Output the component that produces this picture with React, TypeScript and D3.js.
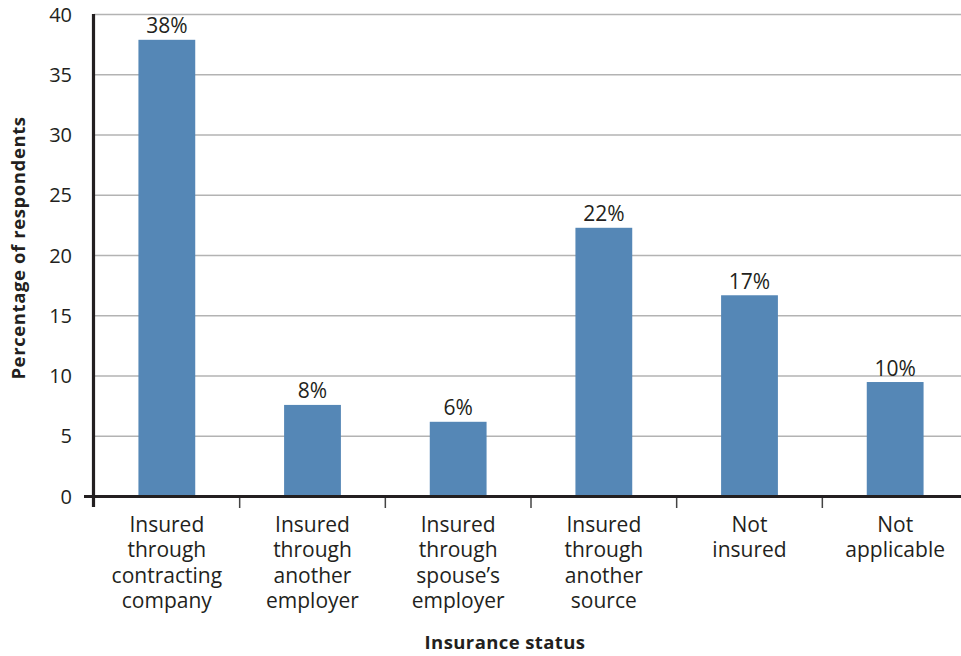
import React from "react";
import * as d3 from "d3";

const categories: string[][] = [
  ["Insured", "through", "contracting", "company"],
  ["Insured", "through", "another", "employer"],
  ["Insured", "through", "spouse\u2019s", "employer"],
  ["Insured", "through", "another", "source"],
  ["Not", "insured"],
  ["Not", "applicable"],
];
const values: number[] = [37.9, 7.6, 6.2, 22.3, 16.7, 9.5];
const valueLabels: string[] = ["38%", "8%", "6%", "22%", "17%", "10%"];
const yTicks: number[] = [0, 5, 10, 15, 20, 25, 30, 35, 40];

const W = 961;
const H = 656;
const FONT = "'Open Sans', 'Noto Sans', sans-serif";
const TEXT = "#231f20";

export default function App() {
  const x = d3
    .scaleBand<number>()
    .domain(d3.range(categories.length))
    .range([94, 968])
    .paddingInner(0.61)
    .paddingOuter(0.305);
  const y = d3.scaleLinear().domain([0, 40]).range([496.5, 14.5]);
  const bandStep = x.step();
  const boundaries = d3.range(1, categories.length).map((i) => 94 + i * bandStep);

  return (
    <svg
      width={W}
      height={H}
      style={{ position: "absolute", left: 0, top: 0, background: "#fff" }}
      fontFamily={FONT}
    >
      {/* gridlines */}
      {yTicks
        .filter((t) => t > 0)
        .map((t) => (
          <line
            key={"g" + t}
            x1={94}
            x2={W}
            y1={y(t)}
            y2={y(t)}
            stroke="#b3b3b3"
            strokeWidth={1.6}
          />
        ))}
      {/* y tick labels */}
      {yTicks.map((t) => (
        <text
          key={"yl" + t}
          x={72}
          y={y(t)}
          dy="0.36em"
          textAnchor="end"
          fontSize={20}
          fill={TEXT}
        >
          {t}
        </text>
      ))}
      {/* bars */}
      {values.map((v, i) => (
        <rect
          key={"b" + i}
          x={x(i)}
          y={y(v)}
          width={x.bandwidth()}
          height={y(0) - y(v)}
          fill="#5587b6"
        />
      ))}
      {/* value labels */}
      {values.map((v, i) => (
        <text
          key={"v" + i}
          x={(x(i) as number) + x.bandwidth() / 2}
          y={y(v) - 6.5}
          textAnchor="middle"
          fontSize={21}
          fill={TEXT}
        >
          {valueLabels[i]}
        </text>
      ))}
      {/* x tick marks */}
      {boundaries.map((b, i) => (
        <line
          key={"t" + i}
          x1={b}
          x2={b}
          y1={496}
          y2={508}
          stroke="#444"
          strokeWidth={1.5}
        />
      ))}
      {/* axes */}
      <line x1={84} x2={W} y1={496.5} y2={496.5} stroke={TEXT} strokeWidth={3.2} />
      <line x1={93.5} x2={93.5} y1={14} y2={507} stroke={TEXT} strokeWidth={3.2} />
      {/* category labels */}
      {categories.map((lines, i) => (
        <text
          key={"c" + i}
          x={(x(i) as number) + x.bandwidth() / 2}
          y={532}
          textAnchor="middle"
          fontSize={21}
          fill={TEXT}
        >
          {lines.map((l, j) => (
            <tspan key={j} x={(x(i) as number) + x.bandwidth() / 2} dy={j === 0 ? 0 : 25.4}>
              {l}
            </tspan>
          ))}
        </text>
      ))}
      {/* axis titles */}
      <text
        x={505}
        y={649}
        textAnchor="middle"
        fontSize={18.5}
        fontWeight="bold"
        letterSpacing={0.4}
        fill={TEXT}
      >
        Insurance status
      </text>
      <text
        transform={`translate(24.5, 248) rotate(-90)`}
        textAnchor="middle"
        fontSize={18.5}
        fontWeight="bold"
        letterSpacing={0.6}
        fill={TEXT}
      >
        Percentage of respondents
      </text>
    </svg>
  );
}
